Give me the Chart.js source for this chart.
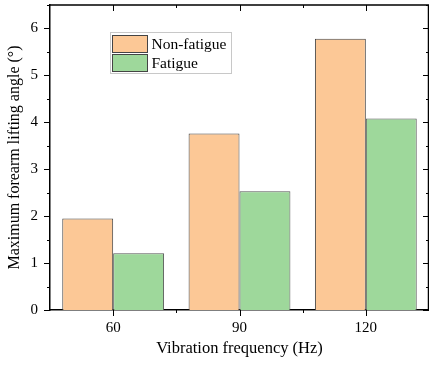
<!DOCTYPE html>
<html lang="en">
<head>
    <meta charset="UTF-8">
    <title>Forearm lifting angle</title>
    <script src="https://cdn.jsdelivr.net/npm/chart.js@4.4.0/dist/chart.umd.min.js"></script>
    <style>
        body { margin: 0; background: #fff; }
        #wrap { width: 429px; height: 365px; }
    </style>
</head>
<body>
    <div id="wrap"><canvas id="myChart" width="429" height="365"></canvas></div>

    <script>
        // data
        const categories = ['60', '90', '120'];
        const nonFatigue = [1.95, 3.76, 5.78];
        const fatigue = [1.21, 2.53, 4.08];
        const seriesNames = ['Non-fatigue', 'Fatigue'];
        const yTicks = [0, 1, 2, 3, 4, 5, 6];

        const serif = "'Liberation Serif', 'DejaVu Serif', serif";

        // ticks, top/right spines and the boxed legend
        const framePlugin = {
            id: 'frame',
            afterDraw(chart) {
                const ctx = chart.ctx;
                const a = chart.chartArea;
                const x = chart.scales.x, y = chart.scales.y;
                ctx.save();
                ctx.strokeStyle = '#000';
                ctx.lineWidth = 1.5;
                ctx.beginPath();
                ctx.moveTo(a.left, a.top); ctx.lineTo(a.right, a.top);
                ctx.moveTo(a.right - 0.5, a.top); ctx.lineTo(a.right - 0.5, a.bottom);
                ctx.stroke();

                ctx.lineWidth = 1;
                ctx.beginPath();
                for (let v = 0; v <= 6.5; v += 0.5) {
                    const py = Math.round(y.getPixelForValue(v)) + 0.5;
                    const len = Number.isInteger(v) ? 6 : 3;
                    ctx.moveTo(a.left - len, py); ctx.lineTo(a.left, py);
                    ctx.moveTo(a.right, py); ctx.lineTo(a.right - len, py);
                }
                for (let i = 0; i < categories.length; i++) {
                    const px = Math.round(x.getPixelForValue(i)) + 0.5;
                    ctx.moveTo(px, a.bottom); ctx.lineTo(px, a.bottom + 6);
                    ctx.moveTo(px, a.top); ctx.lineTo(px, a.top + 6);
                    if (i < categories.length - 1) {
                        const mx = Math.round((x.getPixelForValue(i) + x.getPixelForValue(i + 1)) / 2) + 0.5;
                        ctx.moveTo(mx, a.bottom); ctx.lineTo(mx, a.bottom + 3);
                        ctx.moveTo(mx, a.top); ctx.lineTo(mx, a.top + 3);
                    }
                }
                ctx.stroke();

                // legend box
                const lx = a.left + 60.5, ly = a.top + 27.5;
                ctx.strokeStyle = '#c8c8c8';
                ctx.strokeRect(lx, ly, 121, 41);
                ctx.font = '15.5px ' + serif;
                ctx.textBaseline = 'middle';
                chart.data.datasets.forEach((ds, k) => {
                    const sy = ly + 3 + k * 19;
                    ctx.fillStyle = ds.backgroundColor;
                    ctx.fillRect(lx + 2, sy, 35, 17);
                    ctx.strokeStyle = '#444';
                    ctx.strokeRect(lx + 2, sy, 35, 17);
                    ctx.fillStyle = '#000';
                    ctx.fillText(ds.label, lx + 41, sy + 9);
                });
                ctx.restore();
            }
        };

        const ctx = document.getElementById('myChart').getContext('2d');
        const myChart = new Chart(ctx, {
            type: 'bar',
            data: {
                labels: categories,
                datasets: [
                    {
                        label: seriesNames[0],
                        data: nonFatigue,
                        backgroundColor: '#fcc896',
                        borderColor: '#444',
                        borderWidth: 1,
                        borderSkipped: 'bottom'
                    },
                    {
                        label: seriesNames[1],
                        data: fatigue,
                        backgroundColor: '#9ed89b',
                        borderColor: '#555',
                        borderWidth: 1,
                        borderSkipped: 'bottom'
                    }
                ]
            },
            options: {
                responsive: false,
                animation: false,
                layout: { padding: { top: 5, right: 0, left: 0, bottom: 0 } },
                datasets: { bar: { categoryPercentage: 0.806, barPercentage: 1 } },
                plugins: {
                    legend: { display: false },
                    tooltip: { enabled: false }
                },
                scales: {
                    x: {
                        grid: { display: false, drawTicks: false },
                        border: { color: '#000', width: 1.5 },
                        ticks: { color: '#000', padding: 9, font: { family: serif, size: 15 } },
                        title: {
                            display: true, text: 'Vibration frequency (Hz)', color: '#000',
                            font: { family: serif, size: 16.5 }, padding: { top: 6, bottom: 6 }
                        },
                        afterFit(s) { s.height = 55; s.paddingLeft = 0; s.paddingRight = 0; }
                    },
                    y: {
                        min: 0, max: 6.5,
                        afterBuildTicks(s) { s.ticks = yTicks.map(v => ({ value: v })); },
                        grid: { display: false, drawTicks: false },
                        border: { color: '#000', width: 1.5 },
                        ticks: { color: '#000', padding: 12, font: { family: serif, size: 15 } },
                        title: {
                            display: true, text: 'Maximum forearm lifting angle (°)', color: '#000',
                            font: { family: serif, size: 16 }, padding: { top: 5, bottom: 0 }
                        },
                        afterFit(s) { s.width = 50; s.paddingTop = 0; s.paddingBottom = 0; }
                    }
                }
            },
            plugins: [framePlugin]
        });
    </script>
</body>
</html>
